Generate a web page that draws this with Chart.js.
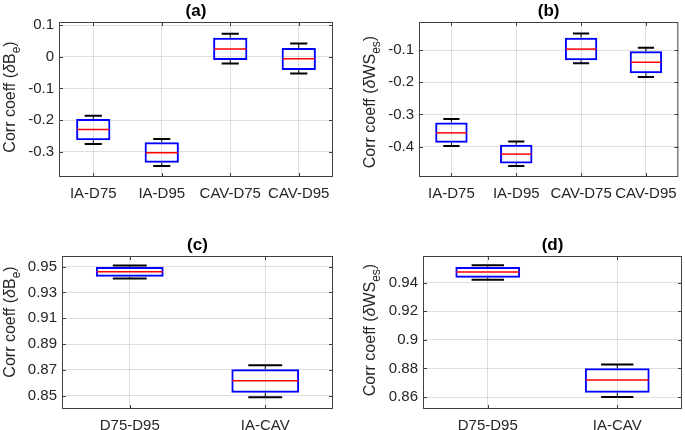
<!DOCTYPE html>
<html>
<head>
<meta charset="utf-8">
<script src="https://cdn.jsdelivr.net/npm/chart.js@4.4.1/dist/chart.umd.min.js"></script>
<style>
  html, body { margin: 0; padding: 0; background: #fff; }
  #wrap { position: relative; width: 685px; height: 430px; }
  canvas { position: absolute; }
</style>
</head>
<body>
<div id="wrap">
  <canvas id="ca" width="342" height="215" style="left:0;top:0;width:342px;height:215px"></canvas>
  <canvas id="cb" width="343" height="215" style="left:342px;top:0;width:343px;height:215px"></canvas>
  <canvas id="cc" width="342" height="215" style="left:0;top:215px;width:342px;height:215px"></canvas>
  <canvas id="cd" width="343" height="215" style="left:342px;top:215px;width:343px;height:215px"></canvas>
</div>
<script>
// categories
const topCats = ['IA-D75', 'IA-D95', 'CAV-D75', 'CAV-D95'];
const bottomCats = ['D75-D95', 'IA-CAV'];

// (a) dB_e
const aLow  = [-0.276, -0.345, -0.021, -0.053];
const aQ1   = [-0.264, -0.335, -0.010, -0.042];
const aMed  = [-0.230, -0.303,  0.025, -0.006];
const aQ3   = [-0.197, -0.270,  0.060,  0.028];
const aHigh = [-0.186, -0.260,  0.073,  0.042];
const aTicks = [-0.3, -0.2, -0.1, 0, 0.1];

// (b) dWS_es
const bLow  = [-0.398, -0.460, -0.141, -0.184];
const bQ1   = [-0.388, -0.452, -0.132, -0.172];
const bMed  = [-0.357, -0.423, -0.097, -0.138];
const bQ3   = [-0.325, -0.394, -0.062, -0.104];
const bHigh = [-0.314, -0.384, -0.049, -0.093];
const bTicks = [-0.4, -0.3, -0.2, -0.1];

// (c) dB_e
const cLow  = [0.9409, 0.8488];
const cQ1   = [0.9422, 0.8522];
const cMed  = [0.9461, 0.8615];
const cQ3   = [0.9497, 0.8704];
const cHigh = [0.9510, 0.8735];
const cTicks = [0.85, 0.87, 0.89, 0.91, 0.93, 0.95];

// (d) dWS_es
const dLow  = [0.9421, 0.8600];
const dQ1   = [0.9435, 0.8630];
const dMed  = [0.9475, 0.8719];
const dQ3   = [0.9510, 0.8801];
const dHigh = [0.9522, 0.8827];
const dTicks = [0.86, 0.88, 0.90, 0.92, 0.94];

const FONT = "'Liberation Sans', Arial, sans-serif";
const AXIS = '#262626';

// whiskers, medians, frame, titles, y labels
const boxPlot = {
  id: 'boxPlot',
  afterDatasetsDraw(chart, args, o) {
    const ctx = chart.ctx, y = chart.scales.y;
    chart.getDatasetMeta(0).data.forEach((bar, i) => {
      const x = bar.x, half = bar.width / 2, cap = bar.width / 4;
      const pLo = y.getPixelForValue(o.low[i]), pQ1 = y.getPixelForValue(o.q1[i]);
      const pQ3 = y.getPixelForValue(o.q3[i]), pHi = y.getPixelForValue(o.high[i]);
      const pMed = y.getPixelForValue(o.med[i]);
      ctx.save();
      ctx.strokeStyle = '#000';
      ctx.lineWidth = 1;
      ctx.beginPath();
      ctx.moveTo(x, pQ3); ctx.lineTo(x, pHi);
      ctx.moveTo(x, pQ1); ctx.lineTo(x, pLo);
      ctx.stroke();
      ctx.lineWidth = 2;
      ctx.beginPath();
      ctx.moveTo(x - cap, pHi); ctx.lineTo(x + cap, pHi);
      ctx.moveTo(x - cap, pLo); ctx.lineTo(x + cap, pLo);
      ctx.stroke();
      ctx.strokeStyle = '#ff0000';
      ctx.lineWidth = 1.5;
      ctx.beginPath();
      ctx.moveTo(x - half + 1, pMed); ctx.lineTo(x + half - 1, pMed);
      ctx.stroke();
      ctx.restore();
    });
  },
  afterDraw(chart, args, o) {
    const ctx = chart.ctx, a = chart.chartArea;
    ctx.save();
    // frame + inward ticks
    ctx.strokeStyle = '#404040';
    ctx.lineWidth = 1;
    ctx.strokeRect(a.left + 0.5, a.top + 0.5, a.right - a.left - 1, a.bottom - a.top - 1);
    ctx.beginPath();
    chart.scales.y.ticks.forEach(t => {
      const py = Math.round(chart.scales.y.getPixelForValue(t.value)) + 0.5;
      ctx.moveTo(a.left, py); ctx.lineTo(a.left + 4, py);
      ctx.moveTo(a.right, py); ctx.lineTo(a.right - 4, py);
    });
    chart.data.labels.forEach((l, i) => {
      const px = Math.round(chart.scales.x.getPixelForValue(i)) + 0.5;
      ctx.moveTo(px, a.bottom); ctx.lineTo(px, a.bottom - 4);
      ctx.moveTo(px, a.top); ctx.lineTo(px, a.top + 4);
    });
    ctx.stroke();
    // title
    ctx.fillStyle = '#000';
    ctx.font = 'bold 17px ' + FONT;
    ctx.textAlign = 'center';
    ctx.textBaseline = 'middle';
    ctx.fillText(o.title, (a.left + a.right) / 2, a.top - 11);
    // y label with subscript
    ctx.fillStyle = AXIS;
    ctx.translate(o.labelX, o.labelY);
    ctx.rotate(-Math.PI / 2);
    ctx.textAlign = 'left';
    ctx.textBaseline = 'alphabetic';
    const main = '16px ' + FONT, ital = 'italic 16px ' + FONT, sub = '12px ' + FONT;
    const parts = [['Corr coeff (', main, 0], ['\u03b4', ital, 0], [o.yMain, main, 0], [o.ySub, sub, 5], [')', main, 0]];
    let total = 0;
    parts.forEach(p => { ctx.font = p[1]; total += ctx.measureText(p[0]).width; });
    let cx = -total / 2;
    parts.forEach(p => {
      ctx.font = p[1];
      ctx.fillText(p[0], cx, p[2]);
      cx += ctx.measureText(p[0]).width;
    });
    ctx.restore();
  }
};

function makeChart(id, area, cats, low, q1, med, q3, high, ticks, ymin, ymax, extra) {
  const canvas = document.getElementById(id);
  return new Chart(canvas, {
    type: 'bar',
    data: {
      labels: cats,
      datasets: [{
        data: q1.map((v, i) => [v, q3[i]]),
        backgroundColor: 'rgba(0,0,0,0)',
        borderColor: '#0000ff',
        borderWidth: 2,
        borderSkipped: false,
        barPercentage: 0.5,
        categoryPercentage: 1
      }]
    },
    options: {
      responsive: false,
      animation: false,
      layout: { padding: { left: 0, top: area.t, right: canvas.width - area.r, bottom: 0 } },
      plugins: {
        legend: { display: false },
        tooltip: { enabled: false },
        boxPlot: Object.assign({ low, q1, med, q3, high }, extra)
      },
      scales: {
        x: {
          offset: true,
          grid: { offset: false, color: 'rgba(0,0,0,0.12)', drawTicks: false },
          border: { display: false },
          ticks: { color: AXIS, font: { family: FONT, size: 15 }, padding: 8, maxRotation: 0, autoSkip: false },
          afterFit: s => { s.height = canvas.height - area.b; }
        },
        y: {
          min: ymin,
          max: ymax,
          grid: { color: 'rgba(0,0,0,0.12)', drawTicks: false },
          border: { display: false },
          ticks: {
            color: AXIS, font: { family: FONT, size: 15 }, padding: 5,
            callback: v => String(+v.toFixed(3))
          },
          afterBuildTicks: s => { s.ticks = ticks.map(v => ({ value: v })); },
          afterFit: s => { s.width = area.l; }
        }
      }
    },
    plugins: [boxPlot]
  });
}

makeChart('ca', { l: 59, t: 22, r: 333, b: 177 }, topCats, aLow, aQ1, aMed, aQ3, aHigh, aTicks, -0.38, 0.11,
  { title: '(a)', yMain: 'B', ySub: 'e', labelX: 15, labelY: 97 });
makeChart('cb', { l: 77, t: 22, r: 340, b: 177 }, topCats, bLow, bQ1, bMed, bQ3, bHigh, bTicks, -0.494, -0.013,
  { title: '(b)', yMain: 'WS', ySub: 'es', labelX: 33, labelY: 102 });
makeChart('cc', { l: 62, t: 41, r: 333, b: 194 }, bottomCats, cLow, cQ1, cMed, cQ3, cHigh, cTicks, 0.8396, 0.9583,
  { title: '(c)', yMain: 'B', ySub: 'e', labelX: 15, labelY: 107 });
makeChart('cd', { l: 81, t: 41, r: 340, b: 194 }, bottomCats, dLow, dQ1, dMed, dQ3, dHigh, dTicks, 0.8516, 0.9587,
  { title: '(d)', yMain: 'WS', ySub: 'es', labelX: 33, labelY: 115 });
</script>
</body>
</html>
